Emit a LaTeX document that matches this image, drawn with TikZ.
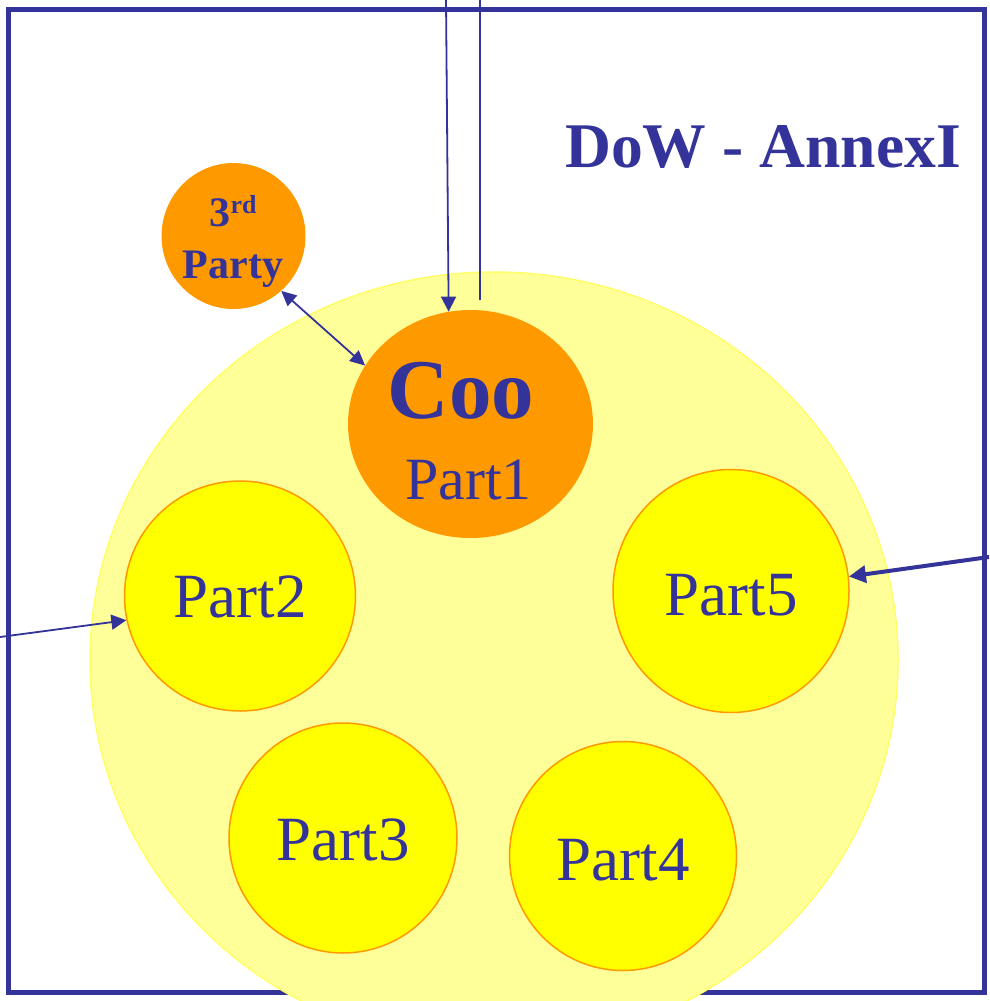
\documentclass[tikz,border=0pt]{standalone}
\usepackage{fontspec}
\setmainfont{Liberation Serif}
\usetikzlibrary{shapes.geometric,arrows.meta}
\definecolor{ink}{HTML}{333399}
\definecolor{orng}{HTML}{FF9900}
\definecolor{yel}{HTML}{FFFF00}
\definecolor{paleyel}{HTML}{FFFF99}
\definecolor{paleedge}{HTML}{FFFF66}
% lower a label inside its node without changing the node's box
\newcommand{\sunk}[2]{\raisebox{-#1}[\height][0pt]{#2}}
\begin{document}
\begin{tikzpicture}[x=1pt,y=-1pt,
  member/.style={ellipse,draw=orng,line width=1.5pt,fill=yel,inner sep=0pt,
    text=ink,font=\fontsize{63}{63}\selectfont},
  hub/.style={ellipse,fill=orng,inner sep=0pt},
  caption/.style={text=ink,anchor=base,inner sep=0pt},
  link/.style={draw=ink,line width=1.8pt},
  headed/.style={-{Triangle[length=15pt,width=15pt]}},
]
\clip (0,0) rectangle (989,1001);
\fill[white] (0,0) rectangle (989,1001);

% outer frame
\draw[ink,line width=5pt] (8.5,9) rectangle (984,992);

% consortium area
\node[ellipse,fill=paleyel,draw=paleedge,line width=1.5pt,inner sep=0pt,
      minimum width=808pt,minimum height=776pt] (team) at (494,660) {};

% coordinator and third party
\node[hub,minimum width=245pt,minimum height=228pt] (coo) at (470.5,424) {};
\node[hub,minimum width=144pt,minimum height=146pt] (third) at (233.5,236) {};

% partners
\node[member,minimum width=231pt,minimum height=230pt] (p2) at (240,596) {\sunk{1pt}{Part2}};
\node[member,minimum width=236pt,minimum height=243pt] (p5) at (731,591) {\sunk{4pt}{Part5}};
\node[member,minimum width=228pt,minimum height=230pt] (p3) at (343,838) {\sunk{2pt}{Part3}};
\node[member,minimum width=227pt,minimum height=229pt] (p4) at (623,856) {\sunk{4pt}{Part4}};

% labels
\node[caption,font=\fontsize{85}{85}\selectfont\bfseries] (cootxt) at (461,418) {Coo};
\node[caption,font=\fontsize{60}{60}\selectfont] (p1txt) at (468.5,499) {Part1};
\node[caption,font=\fontsize{42}{42}\selectfont\bfseries] (thirdtxt) at (233,226)
  {3\raisebox{13pt}{\fontsize{26}{26}\selectfont rd}};
\node[caption,font=\fontsize{42}{42}\selectfont\bfseries] (partytxt) at (233,278) {Party};
\node[caption,font=\fontsize{63.6}{63.6}\selectfont\bfseries] (title) at (763,167) {DoW - AnnexI};

% connectors
\coordinate (inA) at (446,0);
\coordinate (inB) at (480,0);
\coordinate (inBend) at (480,300);
\coordinate (fromL) at (0,637);
\coordinate (fromR) at (989,557);
\draw[link,headed] (inA) -- (coo.101);
\draw[link] (inB) -- (inBend);
\draw[link,{Triangle[length=15pt,width=14pt]}-{Triangle[length=15pt,width=14pt]}]
  (third.-49) -- (coo.151);
\draw[link,headed] (fromL) -- (p2.192);
\draw[link,line width=4pt,-{Triangle[length=17pt,width=17pt]}] (fromR) -- (p5.7);
\end{tikzpicture}
\end{document}
